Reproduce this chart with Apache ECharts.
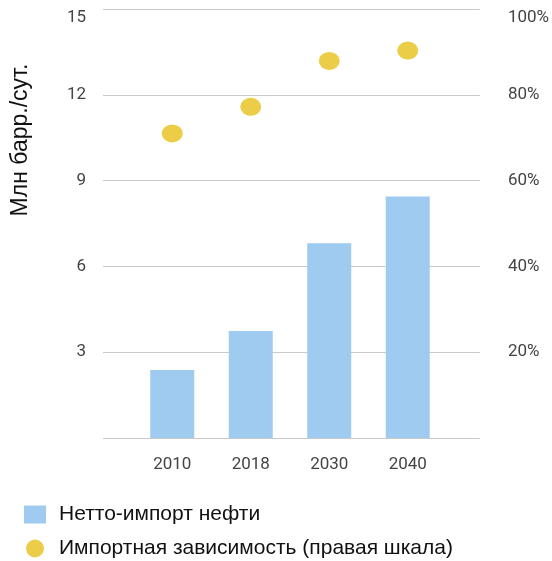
<!DOCTYPE html>
<html>
<head>
<meta charset="utf-8">
<script src="https://cdn.jsdelivr.net/npm/echarts@6/dist/echarts.min.js"></script>
<style>
html,body{margin:0;padding:0;background:#fff;}
#c{width:552px;height:561px;}
</style>
</head>
<body>
<div id="c"></div>
<script>
var years = ['2010', '2018', '2030', '2040'];
var netImport = [2.38, 3.74, 6.81, 8.44];
var dependency = [71.0, 77.2, 87.9, 90.3];
var leftTicks = [0, 15, 3];
var rightTicks = [0, 100, 20];
var seriesNames = ['Нетто-импорт нефти', 'Импортная зависимость (правая шкала)'];
var axisTitle = 'Млн барр./сут.';

var ellipse = 'path://M0,10 A10,10 0 1,1 20,10 A10,10 0 1,1 0,10 Z';
var FONT = 'Roboto, "Noto Sans", sans-serif';
var FONT2 = '"Liberation Sans", Arial, sans-serif';
var chart = echarts.init(document.getElementById('c'));
chart.setOption({
  animation: false,
  textStyle: {fontFamily: FONT},
  grid: [
    {left: 103, right: 72, top: 9, bottom: 123},
    {left: 133, right: 105, top: 9, bottom: 123}
  ],
  xAxis: [
    {gridIndex: 0, type: 'category', data: years, show: false},
    {gridIndex: 1, type: 'category', data: years, boundaryGap: true,
     axisLine: {show: false}, axisTick: {show: false},
     axisLabel: {margin: 18, fontSize: 17, color: '#444', fontFamily: FONT}}
  ],
  yAxis: [
    {gridIndex: 0, type: 'value', position: 'left', min: leftTicks[0], max: leftTicks[1], interval: leftTicks[2],
     axisLine: {show: false}, axisTick: {show: false},
     splitLine: {lineStyle: {color: '#c9c9c9', width: 1.2}},
     axisLabel: {margin: 17, fontSize: 17, color: '#444', fontFamily: FONT,
       verticalAlignMaxLabel: 'top',
       formatter: function (v) { return v === 0 ? '' : String(v); }}},
    {gridIndex: 0, type: 'value', position: 'right', min: rightTicks[0], max: rightTicks[1], interval: rightTicks[2],
     axisLine: {show: false}, axisTick: {show: false}, splitLine: {show: false},
     axisLabel: {margin: 28, fontSize: 17, color: '#444', fontFamily: FONT,
       verticalAlignMaxLabel: 'top',
       formatter: function (v) { return v === 0 ? '' : v + '%'; }}},
    {gridIndex: 1, type: 'value', min: leftTicks[0], max: leftTicks[1], show: false},
    {gridIndex: 1, type: 'value', min: rightTicks[0], max: rightTicks[1], show: false}
  ],
  legend: {
    orient: 'vertical', left: 24, top: 504, height: 80, itemGap: 13, padding: 0,
    itemWidth: 22, itemHeight: 18,
    textStyle: {fontSize: 21, color: '#111', fontFamily: FONT2, padding: [0, 0, 0, 8]},
    data: [
      {name: seriesNames[0], icon: 'rect'},
      {name: seriesNames[1], icon: ellipse}
    ]
  },
  graphic: [
    {type: 'text', x: 21, y: 140, rotation: Math.PI / 2,
     style: {text: axisTitle, fontSize: 23, fill: '#111', fontFamily: FONT2,
       align: 'center', verticalAlign: 'middle'}}
  ],
  series: [
    {name: seriesNames[0], type: 'bar', xAxisIndex: 1, yAxisIndex: 2,
     data: netImport, barWidth: 44, itemStyle: {color: '#9fcbf0'}},
    {name: seriesNames[1], type: 'scatter', xAxisIndex: 1, yAxisIndex: 3,
     data: dependency, symbol: ellipse, symbolSize: [21, 18], itemStyle: {color: '#e6c11a'}}
  ]
});
</script>
</body>
</html>
